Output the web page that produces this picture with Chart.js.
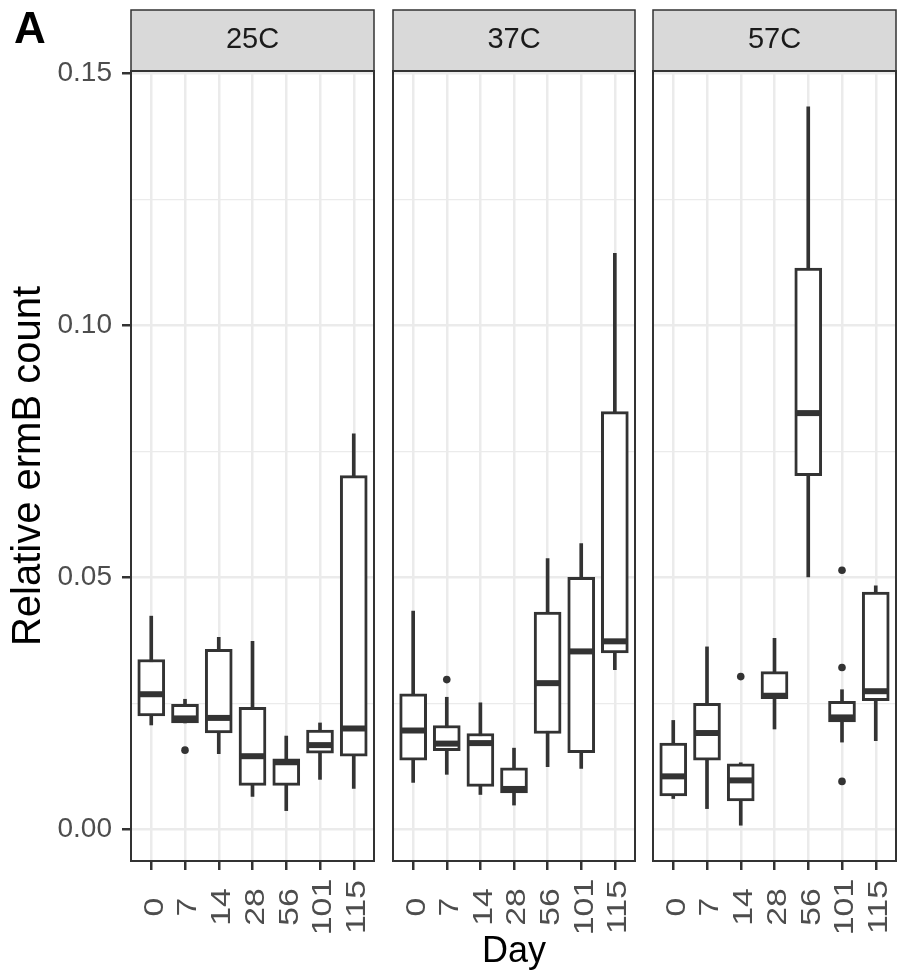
<!DOCTYPE html>
<html>
<head>
<meta charset="utf-8">
<script src="https://cdn.jsdelivr.net/npm/chart.js@4.4.0/dist/chart.umd.min.js"></script>
<style>
  body { margin: 0; background: #fff; }
  #wrap { position: relative; width: 897px; height: 974px; overflow: hidden; background: #fff; }
  canvas { position: absolute; top: 0; }
  #tag { position: absolute; left: 14px; top: 6px; font: bold 44px/44px "Liberation Sans", Arial, sans-serif; color: #000; }
</style>
</head>
<body>
<div id="wrap">
  <canvas id="p0" width="376" height="974" style="left:0px"></canvas>
  <canvas id="p1" width="261" height="974" style="left:376px"></canvas>
  <canvas id="p2" width="260" height="974" style="left:637px"></canvas>
  <div id="tag">A</div>
</div>
<script>
// facets and x categories
var panels = ["25C", "37C", "57C"];
var days = ["0", "7", "14", "28", "56", "101", "115"];

// box stats per panel, one value per day
var whiskerLow = [
  [0.0207, 0.0211, 0.0150, 0.0065, 0.0037, 0.0099, 0.0081],
  [0.0093, 0.0109, 0.0069, 0.0048, 0.0124, 0.0121, 0.0317],
  [0.0061, 0.0041, 0.0008, 0.0199, 0.0501, 0.0173, 0.0176]
];
var q1 = [
  [0.0225, 0.0211, 0.0191, 0.0087, 0.0087, 0.0151, 0.0145],
  [0.0137, 0.0156, 0.0085, 0.0072, 0.0190, 0.0152, 0.0350],
  [0.0066, 0.0137, 0.0056, 0.0259, 0.0702, 0.0213, 0.0255]
];
var median = [
  [0.0268, 0.0220, 0.0221, 0.0145, 0.0133, 0.0167, 0.0200],
  [0.0196, 0.0170, 0.0171, 0.0080, 0.0290, 0.0353, 0.0373],
  [0.0105, 0.0191, 0.0097, 0.0265, 0.0826, 0.0222, 0.0274]
];
var q3 = [
  [0.0337, 0.0248, 0.0357, 0.0242, 0.0140, 0.0197, 0.0702],
  [0.0269, 0.0206, 0.0190, 0.0122, 0.0431, 0.0500, 0.0829],
  [0.0171, 0.0250, 0.0130, 0.0313, 0.1114, 0.0254, 0.0471]
];
var whiskerHigh = [
  [0.0423, 0.0258, 0.0381, 0.0373, 0.0185, 0.0211, 0.0785],
  [0.0433, 0.0262, 0.0251, 0.0161, 0.0537, 0.0567, 0.1143],
  [0.0216, 0.0362, 0.0132, 0.0379, 0.1434, 0.0277, 0.0483]
];
var outlierDay = [[1], [1], [2, 5, 5, 5]];
var outlierValue = [[0.0157], [0.0297], [0.0303, 0.0514, 0.0321, 0.0095]];

var yTicks = [0, 0.025, 0.05, 0.075, 0.1, 0.125, 0.15];

var FONT = '"Liberation Sans", Arial, sans-serif';
var INK = "#333333";
var leftPad = [131, 17, 16];
var rightPad = [2, 2, 1];

function isMajor(v) {
  return Math.abs(v * 20 - Math.round(v * 20)) < 1e-6;
}

// strip on top, panel border and rotated day labels
var facetPlugin = {
  id: "facet",
  beforeDraw: function (chart, args, opts) {
    var a = chart.chartArea, ctx = chart.ctx;
    ctx.save();
    ctx.fillStyle = "#d9d9d9";
    ctx.fillRect(a.left, 10, a.right - a.left, a.top - 10);
    ctx.strokeStyle = INK;
    ctx.lineWidth = 1.5;
    ctx.strokeRect(a.left, 10, a.right - a.left, a.top - 10);
    ctx.fillStyle = "#1a1a1a";
    ctx.font = "29px " + FONT;
    ctx.textAlign = "center";
    ctx.textBaseline = "middle";
    ctx.fillText(opts.label, (a.left + a.right) / 2, 40);
    ctx.restore();
  },
  afterDraw: function (chart) {
    var a = chart.chartArea, ctx = chart.ctx, xs = chart.scales.x;
    ctx.save();
    ctx.strokeStyle = INK;
    ctx.lineWidth = 2;
    ctx.strokeRect(a.left, a.top, a.right - a.left, a.bottom - a.top);
    ctx.fillStyle = "#4d4d4d";
    ctx.font = "27px " + FONT;
    ctx.textAlign = "center";
    ctx.textBaseline = "middle";
    for (var i = 0; i < days.length; i++) {
      ctx.save();
      ctx.translate(xs.getPixelForValue(i) + 4, 907);
      ctx.rotate(-Math.PI / 2);
      ctx.scale(1.25, 1);
      ctx.fillText(days[i], 0, 0);
      ctx.restore();
    }
    ctx.restore();
  }
};

function makePanel(p) {
  var boxes = days.map(function (d, i) { return { x: i, y: [q1[p][i], q3[p][i]] }; });
  var whiskers = days.map(function (d, i) { return { x: i, y: [whiskerLow[p][i], whiskerHigh[p][i]] }; });
  var medians = days.map(function (d, i) { return { x: i, y: median[p][i] }; });
  var outs = outlierDay[p].map(function (d, k) { return { x: d, y: outlierValue[p][k] }; });

  new Chart(document.getElementById("p" + p), {
    type: "bar",
    data: {
      datasets: [
        {
          type: "scatter",
          data: outs,
          pointRadius: 3.8,
          pointBackgroundColor: INK,
          pointBorderWidth: 0,
          order: 0
        },
        {
          type: "scatter",
          data: medians,
          pointStyle: "line",
          pointRadius: 13,
          pointBorderWidth: 6,
          pointBorderColor: INK,
          order: 1
        },
        {
          data: boxes,
          backgroundColor: "#ffffff",
          borderColor: INK,
          borderWidth: 3,
          borderSkipped: false,
          barThickness: 27,
          grouped: false,
          order: 2
        },
        {
          data: whiskers,
          backgroundColor: INK,
          borderWidth: 0,
          barThickness: 3,
          grouped: false,
          order: 3
        }
      ]
    },
    options: {
      responsive: false,
      animation: false,
      events: [],
      devicePixelRatio: 1,
      layout: { autoPadding: false, padding: { top: 71, right: rightPad[p], bottom: 0, left: 0 } },
      plugins: {
        legend: { display: false },
        tooltip: { enabled: false },
        facet: { label: panels[p] }
      },
      scales: {
        x: {
          type: "linear",
          min: -0.6,
          max: 6.6,
          offset: false,
          afterBuildTicks: function (scale) {
            scale.ticks = days.map(function (d, i) { return { value: i }; });
          },
          afterFit: function (scale) { scale.height = 113; },
          grid: {
            offset: false,
            color: "#ebebeb",
            lineWidth: 2.5,
            tickLength: 9,
            tickColor: INK,
            tickWidth: 2.5
          },
          border: { display: false },
          ticks: { display: false },
          title: {
            display: p === 1,
            text: "Day",
            color: "#000",
            font: { family: FONT, size: 36, lineHeight: 1 },
            padding: { top: 0, bottom: 4 }
          }
        },
        y: {
          min: -0.0063,
          max: 0.1505,
          afterBuildTicks: function (scale) {
            scale.ticks = yTicks.map(function (v) { return { value: v }; });
          },
          afterFit: function (scale) { scale.width = leftPad[p]; },
          grid: {
            color: "#ebebeb",
            lineWidth: function (c) { return c.tick && isMajor(c.tick.value) ? 2.5 : 1.3; },
            drawTicks: p === 0,
            tickLength: 9,
            tickColor: function (c) { return c.tick && isMajor(c.tick.value) ? INK : "rgba(0,0,0,0)"; },
            tickWidth: 2.5
          },
          border: { display: false },
          ticks: {
            display: p === 0,
            padding: 10,
            color: "#4d4d4d",
            font: { family: FONT, size: 28 },
            callback: function (v) { return isMajor(v) ? v.toFixed(2) : ""; }
          },
          title: {
            display: p === 0,
            text: "Relative ermB count",
            color: "#000",
            font: { family: FONT, size: 40, lineHeight: 1 },
            padding: { top: 9, bottom: 0 }
          }
        }
      }
    },
    plugins: [facetPlugin]
  });
}

for (var p = 0; p < panels.length; p++) makePanel(p);
</script>
</body>
</html>
